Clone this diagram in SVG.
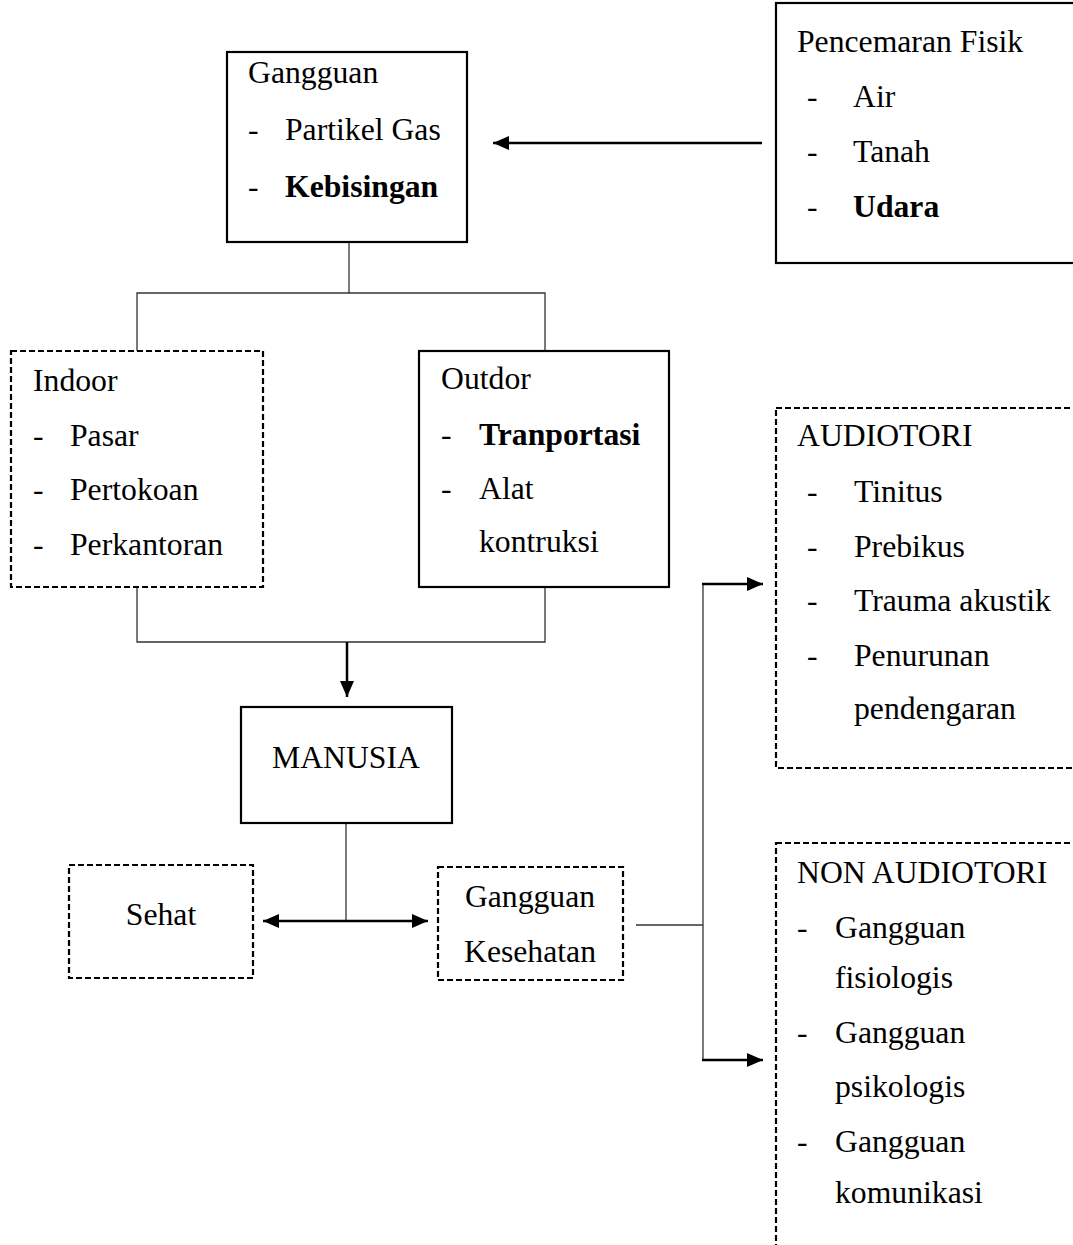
<svg xmlns="http://www.w3.org/2000/svg" width="1073" height="1245" viewBox="0 0 1073 1245">
<style>
text{font-family:"Liberation Serif","Times New Roman",serif;font-size:31.7px;fill:#000}
.b{font-weight:bold}
.m{text-anchor:middle}
.box{fill:#fff;stroke:#000;stroke-width:2.2}
.dash{fill:#fff;stroke:#000;stroke-width:2.2;stroke-dasharray:6 3}
.thin{fill:none;stroke:#333;stroke-width:1.3}
.arr{fill:none;stroke:#000;stroke-width:2.5}
</style>
<defs>
<marker id="ah" markerUnits="userSpaceOnUse" markerWidth="18" markerHeight="14" refX="16" refY="7" orient="auto-start-reverse">
<path d="M0,0 L16,7 L0,14 Z" fill="#000"/>
</marker>
</defs>
<rect width="1073" height="1245" fill="#fff"/>
<g id="connectors">
<polyline class="thin" points="349,243 349,293"/>
<polyline class="thin" points="137,351 137,293 545,293 545,351"/>
<polyline class="thin" points="137,587 137,642 545,642 545,587"/>
<line class="arr" x1="347" y1="642" x2="347" y2="697" marker-end="url(#ah)"/>
<line class="arr" x1="762" y1="143" x2="493" y2="143" marker-end="url(#ah)"/>
<line class="thin" x1="346" y1="823" x2="346" y2="921"/>
<line class="arr" x1="263" y1="921" x2="428" y2="921" marker-start="url(#ah)" marker-end="url(#ah)"/>
<line class="thin" x1="636" y1="925" x2="703" y2="925"/>
<line class="thin" x1="703" y1="584" x2="703" y2="1060"/>
<line class="arr" x1="702" y1="584" x2="763" y2="584" marker-end="url(#ah)"/>
<line class="arr" x1="702" y1="1060" x2="763" y2="1060" marker-end="url(#ah)"/>
</g>
<g id="pencemaran">
<rect class="box" x="776" y="3" width="310" height="260"/>
<text x="797" y="52">Pencemaran Fisik</text>
<text x="807" y="107">-</text><text x="853" y="107">Air</text>
<text x="807" y="162">-</text><text x="853" y="162">Tanah</text>
<text x="807" y="217">-</text><text class="b" x="853" y="217">Udara</text>
</g>
<g id="gangguan">
<rect class="box" x="227" y="52" width="240" height="190"/>
<text x="248" y="83">Gangguan</text>
<text x="248" y="140">-</text><text x="285" y="140">Partikel Gas</text>
<text x="248" y="197">-</text><text class="b" x="285" y="197">Kebisingan</text>
</g>
<g id="indoor">
<rect class="dash" x="11" y="351" width="252" height="236"/>
<text x="33" y="391">Indoor</text>
<text x="33" y="446">-</text><text x="70" y="446">Pasar</text>
<text x="33" y="500">-</text><text x="70" y="500">Pertokoan</text>
<text x="33" y="555">-</text><text x="70" y="555">Perkantoran</text>
</g>
<g id="outdor">
<rect class="box" x="419" y="351" width="250" height="236"/>
<text x="441" y="389">Outdor</text>
<text x="441" y="445">-</text><text class="b" x="479" y="445">Tranportasi</text>
<text x="441" y="499">-</text><text x="479" y="499">Alat</text>
<text x="479" y="552">kontruksi</text>
</g>
<g id="manusia">
<rect class="box" x="241" y="707" width="211" height="116"/>
<text class="m" x="346" y="768">MANUSIA</text>
</g>
<g id="sehat">
<rect class="dash" x="69" y="865" width="184" height="113"/>
<text class="m" x="161" y="925">Sehat</text>
</g>
<g id="gangguan-kesehatan">
<rect class="dash" x="438" y="867" width="185" height="113"/>
<text class="m" x="530" y="907">Gangguan</text>
<text class="m" x="530" y="962">Kesehatan</text>
</g>
<g id="audiotori">
<rect class="dash" x="776" y="408" width="310" height="360"/>
<text x="797" y="446">AUDIOTORI</text>
<text x="807" y="502">-</text><text x="854" y="502">Tinitus</text>
<text x="807" y="557">-</text><text x="854" y="557">Prebikus</text>
<text x="807" y="611">-</text><text x="854" y="611">Trauma akustik</text>
<text x="807" y="666">-</text><text x="854" y="666">Penurunan</text>
<text x="854" y="719">pendengaran</text>
</g>
<g id="non-audiotori">
<rect class="dash" x="776" y="843" width="310" height="420"/>
<text x="797" y="883">NON AUDIOTORI</text>
<text x="797" y="938">-</text><text x="835" y="938">Gangguan</text>
<text x="835" y="988">fisiologis</text>
<text x="797" y="1043">-</text><text x="835" y="1043">Gangguan</text>
<text x="835" y="1097">psikologis</text>
<text x="797" y="1152">-</text><text x="835" y="1152">Gangguan</text>
<text x="835" y="1203">komunikasi</text>
</g>
</svg>
